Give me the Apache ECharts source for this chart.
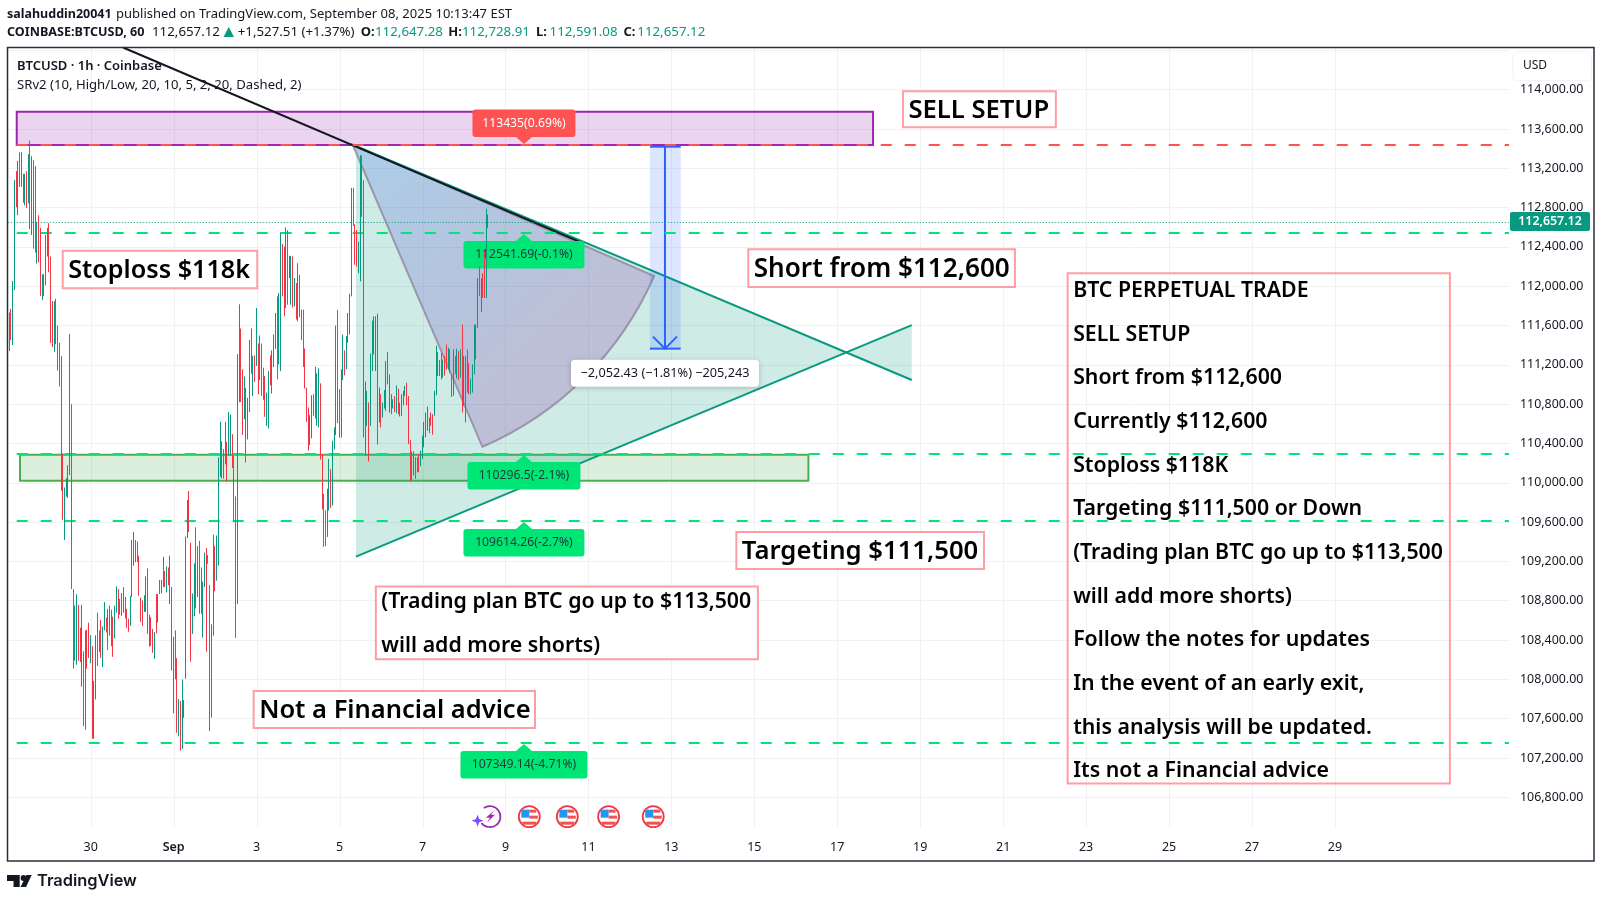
<!DOCTYPE html>
<html><head><meta charset="utf-8"><style>html,body{margin:0;padding:0;background:#fff}#c{width:1602px;height:902px}</style>
<script src="https://cdn.jsdelivr.net/npm/echarts@6/dist/echarts.min.js"></script></head><body><div id="c"></div>
<script>
// Hourly candles. Hour 0 = 30 Aug 00:00.
const firstHour = -47;
const opens = [
111440,111680,111560,112200,113080,112860,113280,113100,113070,112900,
113080,112970,113260,112720,113060,113000,112340,112600,112420,111930,
112070,112250,112380,112520,112080,111730,111460,111760,111490,111290,
110950,110130,109550,109900,109930,110440,109540,108720,108330,108330,
108620,108440,108130,108100,107740,108410,108490,108240,108100,107540,
107960,108540,108440,108510,108230,108570,108590,108610,108520,108620,
108540,108500,108740,108840,108780,108820,108740,108780,108670,108590,
108620,108980,109240,109250,109350,109150,108770,108740,108730,108780,
108960,108410,108560,108450,108270,108770,108650,108980,108910,109020,
109060,108950,109090,109130,108730,108240,108370,108030,107520,107660,
107470,107650,108370,109540,109810,109090,108570,108780,109340,108970,
109220,109020,108570,109030,109070,109240,108590,107850,108700,109240,
109120,109430,110200,110330,110270,110300,110310,110390,110380,110410,
110110,109500,109400,111070,111380,110990,110760,110780,110550,110900,
111460,110980,111230,111340,111290,111160,111280,111090,110980,110660,
110700,111220,111020,111260,111450,111690,111390,111490,112300,112230,
111980,112380,112090,111940,112170,111870,111940,111790,112010,111750,
111620,111270,110880,110660,110460,110560,110740,111050,110710,110710,
110820,109890,109750,109630,109570,109850,110040,109930,110390,110760,
111470,110830,110630,111160,111280,111240,111500,111610,112170,112900,
112530,112480,112210,112370,113170,112420,110460,110670,110670,110760,
111260,111400,111280,111390,110700,110820,110700,110800,110860,111250,
110810,110750,110780,110840,110780,110890,110710,110740,110830,110910,
110960,110760,110330,110250,110260,110200,110220,110250,110210,110300,
110430,110530,110590,110620,110680,110650,110740,111020,111270,111130,
111260,111120,111240,111340,111210,111180,111050,111000,111240,111140,
111270,111140,111390,110910,110780,111250,111140,110940,110990,111230,
111340,111700,112130,111820,112070,112240,112000,112647.28];
const closes = [
111640,111530,111900,112850,112880,113140,113100,113280,112920,113060,
112890,113220,112800,113120,112600,112560,112550,112360,112070,112060,
111960,112510,112520,112270,111640,111500,111720,111520,111260,110990,
110260,109790,109820,110000,110100,111150,108920,108310,108610,108690,
108330,108260,108550,107710,108250,108210,108310,108380,107630,107840,
108290,108270,108330,108310,108430,108710,108520,108400,108670,108430,
108330,108670,108880,108690,108700,108700,108870,108670,108570,108520,
108770,109270,109410,109360,109250,108950,108650,108610,108810,108960,
108630,108570,108410,108330,108470,108570,108790,108900,108980,109170,
108980,109080,109000,108890,108300,107850,108120,107650,107710,107400,
107820,107740,109090,109730,109600,108480,108770,109050,108930,109230,
108850,108790,108850,109200,108550,109200,107850,108320,109210,109010,
109350,109980,110480,110140,110120,110510,110110,110610,110590,110240,
109770,108780,110670,111570,111010,110650,110970,110400,110760,111270,
111220,111190,111100,111630,111030,111390,111020,110930,110780,110830,
110990,111070,111240,111430,111640,111260,111750,112200,112030,111870,
112390,112000,112300,112180,111910,112010,111750,112090,111790,111460,
111320,111060,110710,110440,110610,110780,110850,110790,110980,111010,
110430,109730,109480,109450,109820,110110,109840,110260,110510,111320,
110900,110580,110980,111390,111160,111410,111650,111820,112720,112710,
112320,112290,112370,113010,112860,111110,110840,110850,110370,111130,
111520,111600,111550,110720,110880,110650,110780,110900,111110,111080,
111010,110850,110830,110760,110920,110760,110780,110850,110900,110960,
110850,110520,110120,110100,110140,110100,110150,110150,110290,110420,
110560,110650,110710,110550,110610,110540,110870,111270,111150,111210,
111120,111210,111140,111220,111320,111300,110930,111240,111150,111290,
111120,111290,110940,111160,111120,111030,110980,111020,111130,111480,
111520,111960,111980,112000,111940,112000,112640,112657.12];
const lows = [
111341,111453,111401,111962,112803,112723,113011,113011,112851,112823,
112795,112843,112582,112522,112382,112342,112230,112242,111901,111861,
111901,112010,112302,112142,111421,111381,111329,111409,111141,110980,
109919,109619,109418,109859,109847,110079,108918,108109,108189,108149,
108189,108177,107925,107524,107488,108109,108217,108165,107396,107396,
107796,108137,108277,108217,108125,108497,108477,108297,108445,108337,
108229,108417,108678,108618,108658,108646,108678,108618,108525,108485,
108545,108838,109157,109193,109193,108849,108585,108541,108686,108686,
108462,108332,108342,108270,108209,108469,108578,108867,108874,108939,
108939,108885,108958,108766,108089,107655,108000,107456,107420,107275,
107293,107608,108006,109439,109500,108180,108462,108643,108722,108838,
108668,108668,108426,108939,108281,109175,107474,107612,108444,108896,
109004,109157,110061,110043,110043,110188,110007,110278,110278,110151,
109598,108422,108766,110821,110821,110488,110647,110206,110441,110720,
111110,110882,111027,111188,110901,111046,110884,110844,110671,110580,
110553,110992,110908,111178,111363,111053,111205,111137,111897,111694,
111779,111812,112083,111812,111785,111795,111661,111644,111684,111451,
111178,110958,110621,110327,110384,110452,110682,110654,110580,110563,
110236,109729,109348,109355,109449,109719,109743,109770,110337,110486,
110607,110459,110462,111046,111093,111154,111424,111509,111897,112613,
112218,112201,112133,112049,112707,110462,110276,110580,110216,110580,
111137,111306,111137,110388,110614,110563,110664,110756,110732,111002,
110715,110698,110756,110720,110708,110698,110675,110681,110789,110884,
110789,110394,110013,110023,110074,110040,110107,110107,110168,110242,
110361,110462,110529,110506,110580,110489,110681,110891,111086,111086,
111053,111070,111090,111154,111154,111120,110874,110884,111103,111060,
111046,111070,110715,110783,110614,110918,110901,110901,110918,111103,
111255,111576,111903,111735,111880,111880,111880,112591.08];
const highs = [
111733,111769,112054,113083,113171,113275,113363,113363,113143,113143,
113171,113343,113483,113323,113283,113223,112654,112722,112594,112122,
112122,112522,112594,112642,112302,111849,111849,111873,111601,111425,
111289,110300,109951,110047,110179,111513,110800,108918,108750,108866,
108758,108525,108758,108285,108497,108505,108577,108449,108337,107985,
108449,108678,108497,108605,108537,108786,108629,108718,108750,108710,
108638,108750,108946,108918,108818,108878,108938,108838,108718,108618,
108850,109418,109500,109417,109403,109258,108831,108802,108856,109048,
109128,108657,108632,108513,108480,108867,108867,109012,109012,109247,
109102,109149,109138,109258,108939,108433,108498,108216,107800,107782,
107999,107789,109453,109826,109916,109392,108874,109182,109547,109356,
109410,109138,108994,109290,109337,109265,108958,108560,109471,109356,
109464,110260,110622,110423,110343,110622,110416,110720,110694,110495,
110278,109862,111309,111816,111570,111154,111081,110966,110864,111454,
111570,111291,111298,111779,111417,111499,111417,111171,111087,110918,
111137,111296,111347,111509,111728,111897,111931,112548,112430,112403,
112599,112572,112309,112309,112302,112082,112032,112234,112116,111762,
111762,111367,110969,110766,110688,110891,110901,111181,111114,111164,
111012,110293,109888,109719,109939,110243,110141,110428,110563,111600,
111762,110952,111154,111509,111347,111492,111728,111924,113001,113001,
112629,112572,112454,113332,113332,113078,111029,110935,110817,111316,
111650,111694,111694,111721,110968,110901,110816,110945,111238,111329,
111103,110901,110850,110880,110992,110958,110816,110901,110935,110985,
111019,110884,110435,110320,110320,110259,110259,110293,110327,110479,
110621,110715,110776,110664,110715,110698,110935,111397,111329,111249,
111323,111255,111290,111407,111374,111357,111103,111357,111289,111363,
111340,111357,111610,111289,111289,111357,111221,111060,111205,111610,
111610,112082,112201,112082,112133,112363,112791,112728.91];

const dateLabels = ['30','Sep','3','5','7','9','11','13','15','17','19','21','23','25','27','29'];
const lastPrice = 112657.12;
const levelPrices = [113435, 112541.69, 110296.5, 109614.26, 107349.14];
const levelTexts = ['113435(0.69%)','112541.69(-0.1%)','110296.5(-2.1%)','109614.26(-2.7%)','107349.14(-4.71%)'];
const levelHour = 250.7;
const levelStart = -42.8;
const eventHours = [253.8, 275.8, 299.7, 325.5];
const boltHour = 231;
const measureFrom = 113420, measureTo = 111365;
const measureText = '\u22122,052.43 (\u22121.81%) \u2212205,243';
const noteTexts = [['SELL SETUP'],['Stoploss $118k'],['Short from $112,600'],['Targeting $111,500'],
  ['(Trading plan BTC go up to $113,500','will add more shorts)'],['Not a Financial advice']];
const noteRects = [[470,113983,558.5,113617],[-16.2,112362,96.4,111979],[380.5,112376,534.8,111993],
  [373.6,109500,516.9,109124],[165,108946,386.1,108204],[94.3,107881,257.1,107506]];
const panelTexts = ['BTC PERPETUAL TRADE','SELL SETUP','Short from $112,600','Currently $112,600','Stoploss $118K',
  'Targeting $111,500 or Down','(Trading plan BTC go up to $113,500','will add more shorts)','Follow the notes for updates',
  'In the event of an early exit,','this analysis will be updated.','Its not a Financial advice'];
const panelRect = [565.3,112132,786.5,106940];
const sellZone = [-42.8,113776,452.7,113437];
const buyZone = [-40.9,110286,415.3,110022];
const blackTrend = [[18.7,114429],[285,112436]];
const upperLine = [[151.6,113440],[475.1,111046]];
const lowerLine = [[153.5,109248],[475.1,111604]];
const triangleTop = [153.5,113427];
const fanApex = [151.6,113440], fanArmA = [326,112104], fanArmB = [226.8,110361];
const measureHours = [323.6,332.3,341.4];

const FONT = '"Noto Sans"';
const UP = '#089981', DOWN = '#f23645', INK = '#131722';
const noteFontSizes = [25.6,25.2,26.1,25.7,21.3,25.5];
const tagWidths = [103,121,113,121,127];
const once = (z, render) => ({type:'custom',coordinateSystem:'cartesian2d',data:[[0,0]],renderItem:render,silent:true,z,clip:false,animation:false});
const poly = (pts, style) => ({type:'polygon',shape:{points:pts},style});
const seg = (a,b,style) => ({type:'line',shape:{x1:a[0],y1:a[1],x2:b[0],y2:b[1]},style});
const rect = (a,b,style,r) => ({type:'rect',shape:{x:a[0],y:a[1],width:b[0]-a[0],height:b[1]-a[1],r:r||0},style});
const txt = (s,x,y,font,fill,align) => ({type:'text',style:{text:s,x,y,font,fill,align:align||'left',verticalAlign:'middle'}});
const snap = v => Math.round(v);
const gtext = (s,x,y,font,fill,align) => ({type:'text',z:21,x,y,style:{text:s,font,fill:fill||INK,align:align||'left',verticalAlign:'middle'}});

const candleData = opens.map((o,i)=>[firstHour+i,o,closes[i],lows[i],highs[i]]);

const chart = echarts.init(document.getElementById('c'),null,{renderer:'canvas',width:1602,height:902});
chart.setOption({
 animation:false,backgroundColor:'#fff',
 grid:{left:7.75,top:47.5,width:1501.25,height:789.1},
 xAxis:{type:'value',min:-48,max:820.7,interval:48,axisLine:{show:false},axisTick:{show:false},splitLine:{show:false},
  axisLabel:{margin:4,fontFamily:FONT,fontSize:12.5,color:INK,showMinLabel:false,showMaxLabel:false,
   formatter:v=>{const s=dateLabels[v/48]||'';return s==='Sep'?'{b|Sep}':s;},rich:{b:{fontWeight:600,fontFamily:FONT,fontSize:12.5,color:INK}}}},
 yAxis:{type:'value',position:'right',min:106400,max:114429,interval:400,axisLine:{show:false},axisTick:{show:false},
  splitLine:{show:true,showMinLine:false,showMaxLine:false,lineStyle:{color:'#f0f1f3',width:1}},
  axisLabel:{margin:11,fontFamily:FONT,fontSize:12.4,color:INK,showMinLabel:false,showMaxLabel:false,
   formatter:v=>v>=114400?'':v.toLocaleString('en-US',{minimumFractionDigits:2,maximumFractionDigits:2})}},
 series:[
  // vertical grid lines
  once(0,(p,api)=>{const top=api.coord([0,114429])[1],bot=api.coord([0,106486])[1];
    return {type:'group',children:dateLabels.map((_,i)=>{const x=snap(api.coord([i*48,110000])[0])+.5;return seg([x,top],[x,bot],{stroke:'#f0f1f3',lineWidth:1});})};}),
  // drawings
  once(1,(p,api)=>{const c=api.coord;const ch=[];
    const rz=(r,fill,stroke)=>rect(c([r[0],r[1]]),c([r[2],r[3]]),{fill,stroke,lineWidth:2});
    ch.push(rz(sellZone,'rgba(156,39,176,0.2)','#9c27b0'));
    ch.push(rz(buyZone,'rgba(76,175,80,0.2)','#4caf50'));
    const A=c(triangleTop),B=c(upperLine[1]),C=c(lowerLine[1]),D=c(lowerLine[0]);
    ch.push(poly([A,B,C,D],{fill:'rgba(8,153,129,0.2)'}));
    const o=c(fanApex),a=c(fanArmA),b=c(fanArmB);
    const r=Math.hypot(a[0]-o[0],a[1]-o[1]);
    const sa=Math.atan2(a[1]-o[1],a[0]-o[0]),sb=Math.atan2(b[1]-o[1],b[0]-o[0]);
    const mid=(sa+sb)/2;
    const grad=new echarts.graphic.LinearGradient(o[0],o[1],o[0]+r*Math.cos(mid),o[1]+r*Math.sin(mid),
      [{offset:0,color:'rgba(90,140,240,0.3)'},{offset:1,color:'rgba(133,35,157,0.22)'}],true);
    ch.push({type:'sector',shape:{cx:o[0],cy:o[1],r,r0:0,startAngle:sa,endAngle:sb,clockwise:true},style:{fill:grad,stroke:'#9a95a8',lineWidth:2}});
    ch.push(seg(c(upperLine[0]),c(upperLine[1]),{stroke:UP,lineWidth:2}));
    ch.push(seg(c(lowerLine[0]),c(lowerLine[1]),{stroke:UP,lineWidth:2}));
    ch.push(seg(c(blackTrend[0]),c(blackTrend[1]),{stroke:INK,lineWidth:2}));
    const [mL,mC,mR]=measureHours;
    ch.push(rect(c([mL,measureFrom]),c([mR,measureTo]),{fill:'rgba(41,98,255,0.16)'}));
    const t=c([mC,measureFrom]),e=c([mC,measureTo]);
    const BL='#2962ff';
    ch.push(seg(t,e,{stroke:BL,lineWidth:2}));
    ch.push(seg(c([mL,measureFrom]),c([mR,measureFrom]),{stroke:BL,lineWidth:2}));
    ch.push(seg(c([mL,measureTo]),c([mR,measureTo]),{stroke:BL,lineWidth:2}));
    ch.push({type:'polyline',shape:{points:[[e[0]-12,e[1]-12],e,[e[0]+12,e[1]-12]]},style:{stroke:BL,lineWidth:2,fill:null}});
    const lx=e[0],ly=e[1]+24.5;
    ch.push({type:'rect',shape:{x:lx-94,y:ly-13.5,width:188,height:27,r:4},style:{fill:'#fff',shadowBlur:5,shadowColor:'rgba(0,0,0,0.22)',shadowOffsetY:1}});
    ch.push(txt(measureText,lx,ly,'12.7px '+FONT,INK,'center'));
    return {type:'group',children:ch};}),
  // indicator levels and tags (under the candles)
  once(2,(p,api)=>{const ch=[];const right=api.coord([820.7,0])[0];
    levelPrices.forEach((v,i)=>{const y=snap(api.coord([0,v])[1]);const x0=api.coord([levelStart,0])[0];
      ch.push(seg([x0,y],[right,y],{stroke:i?'#00e676':'#ff5252',lineWidth:2,lineDash:[11,13]}));
      const cx=api.coord([levelHour,0])[0],w=tagWidths[i],d=i?1:-1,col=i?'#00e676':'#ff5252';
      const b0=y+8*d,b1=y+35.5*d;
      ch.push(poly([[cx-8,b0],[cx,y+d*1],[cx+8,b0]],{fill:col}));
      ch.push(rect([cx-w/2,Math.min(b0,b1)],[cx+w/2,Math.max(b0,b1)],{fill:col},3));
      ch.push(txt(levelTexts[i],cx,(b0+b1)/2,'12.2px '+FONT,i?'#1c3b36':'#fff','center'));});
    const py=snap(api.coord([0,lastPrice])[1])+.5;
    ch.push(seg([api.coord([-48,0])[0],py],[right,py],{stroke:UP,lineWidth:1,lineDash:[1,2]}));
    return {type:'group',children:ch};}),
  {type:'candlestick',data:candleData,encode:{x:0,y:[1,2,3,4]},barWidth:0.5,z:3,silent:true,animation:false,clip:true,
   itemStyle:{color:UP,color0:DOWN,borderColor:UP,borderColor0:DOWN,borderWidth:1}},
  // note boxes
  once(4,(p,api)=>{const c=api.coord;const ch=[];const pink='#ff9ea2';
    noteTexts.forEach((lines,i)=>{const r=noteRects[i];const a=c([r[0],r[1]]),b=c([r[2],r[3]]);
      ch.push(rect(a,b,{fill:'#fff',stroke:pink,lineWidth:2}));
      const cy=(a[1]+b[1])/2+(lines.length>1?1.5:1.5);
      lines.forEach((s,k)=>ch.push(txt(s,a[0]+5.5,cy+(k-(lines.length-1)/2)*43.87,'600 '+noteFontSizes[i]+'px '+FONT,'#000')));});
    const a=c([panelRect[0],panelRect[1]]),b=c([panelRect[2],panelRect[3]]);
    ch.push(rect(a,b,{fill:'none',stroke:pink,lineWidth:2}));
    const cy=(a[1]+b[1])/2+2.8;
    panelTexts.forEach((s,k)=>ch.push(txt(s,a[0]+5.5,cy+(k-5.5)*43.65,'600 21.3px '+FONT,'#000')));
    return {type:'group',children:ch};}),
  // economic event icons
  once(4,(p,api)=>{const ch=[];const yy=api.coord([0,106603])[1];
    const bx=api.coord([boltHour,0])[0];
    ch.push({type:'arc',shape:{cx:bx,cy:yy,r:10.5,startAngle:-2.2,endAngle:2.5,clockwise:true},style:{stroke:'#9c27b0',lineWidth:1.7,fill:null}});
    ch.push(poly([[bx+5,yy-7],[bx-4,yy+1],[bx,yy+1],[bx-3,yy+6],[bx+5,yy-2],[bx+1,yy-2]],{fill:'#9c27b0'}));
    const sx=bx-12.3,sy=yy+4;
    ch.push(poly([[sx,sy-6],[sx+1.6,sy-1.6],[sx+6,sy],[sx+1.6,sy+1.6],[sx,sy+6],[sx-1.6,sy+1.6],[sx-6,sy],[sx-1.6,sy-1.6]],{fill:'#7c4dff'}));
    eventHours.forEach(h=>{const x=api.coord([h,0])[0];
      ch.push({type:'circle',shape:{cx:x,cy:yy,r:10.5},style:{fill:'#fff',stroke:'#f23645',lineWidth:1.8}});
      ch.push(rect([x-8,yy-7],[x,yy+1],{fill:'#2196f3'}));
      ch.push(rect([x,yy-7],[x+7,yy-4],{fill:'#ef5350'}));
      ch.push(rect([x,yy-1],[x+8.5,yy+2],{fill:'#ef5350'}));
      ch.push(rect([x-7,yy+5],[x+7,yy+8],{fill:'#ef5350'}));});
    return {type:'group',children:ch};})
 ],
 graphic:{elements:[
  {type:'rect',z:20,shape:{x:7.5,y:47.5,width:1586.5,height:813.5},style:{fill:'none',stroke:'#2a2e39',lineWidth:1.5}},
  gtext('salahuddin20041',7,14.3,'700 12.5px '+FONT),
  gtext('published on TradingView.com, September 08, 2025 10:13:47 EST',116,14.3,'13px '+FONT),
  gtext('COINBASE:BTCUSD, 60',7,32.3,'700 12.6px '+FONT),
  gtext('112,657.12',152,32.3,'13.3px '+FONT),
  {type:'polygon',z:21,shape:{points:[[223.5,37],[234,37],[228.8,27]]},style:{fill:UP}},
  gtext('+1,527.51 (+1.37%)',237.7,32.3,'13.3px '+FONT),
  gtext('O:',360.7,32.3,'700 13px '+FONT), gtext('112,647.28',375,32.3,'13.3px '+FONT,UP),
  gtext('H:',448.3,32.3,'700 13px '+FONT), gtext('112,728.91',462,32.3,'13.3px '+FONT,UP),
  gtext('L:',535.9,32.3,'700 13px '+FONT), gtext('112,591.08',549.6,32.3,'13.3px '+FONT,UP),
  gtext('C:',623.5,32.3,'700 13px '+FONT), gtext('112,657.12',637.3,32.3,'13.3px '+FONT,UP),
  gtext('BTCUSD \u00B7 1h \u00B7 Coinbase',17,66.5,'600 13px '+FONT),
  gtext('SRv2 (10, High/Low, 20, 10, 5, 2, 20, Dashed, 2)',17,85.7,'13.15px '+FONT),
  {type:'rect',z:20,shape:{x:1512.7,y:51.7,width:79,height:29,r:4},style:{fill:'#fff',stroke:'#f0f3fa',lineWidth:1}},
  gtext('USD',1523,66,'12px '+FONT),
  {type:'rect',z:20,shape:{x:1510,y:212,width:80,height:19,r:2},style:{fill:UP}},
  gtext('112,657.12',1550,221.5,'600 12.4px '+FONT,'#fff','center'),
  {type:'polygon',z:20,shape:{points:[[7,875],[19.7,875],[19.7,887],[13.5,887],[13.5,881],[7,881]]},style:{fill:INK}},
  {type:'circle',z:20,shape:{cx:23.5,cy:878,r:2.9},style:{fill:INK}},
  {type:'polygon',z:20,shape:{points:[[26.5,875],[31.7,875],[26,887],[20.5,887]]},style:{fill:INK}},
  gtext('TradingView',37,881.5,'600 16.4px Inter')
 ]}
});
</script></body></html>
